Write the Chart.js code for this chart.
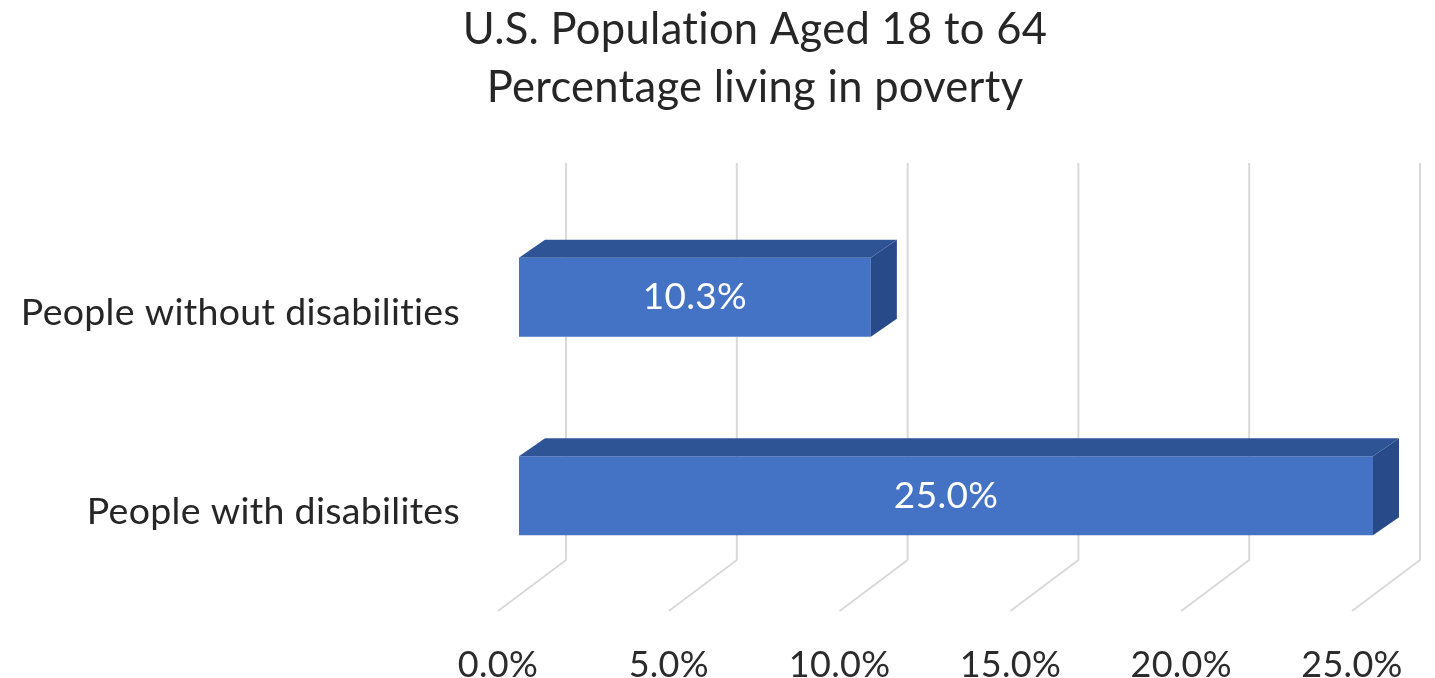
<!DOCTYPE html>
<html>
<head>
<meta charset="utf-8">
<script src="https://cdn.jsdelivr.net/npm/chart.js@4.4.1/dist/chart.umd.min.js"></script>
<style>
html, body { margin: 0; padding: 0; background: #fff; }
#wrap { width: 1435px; height: 678px; }
</style>
</head>
<body>
<div id="wrap"><canvas id="chart"></canvas></div>
<script>
var titleLines = ['U.S. Population Aged 18 to 64', 'Percentage living in poverty'];
var categories = ['People without disabilities', 'People with disabilites'];
var povertyRates = [10.3, 25.0];
var axisMax = 25;
var axisStep = 5;

var FONT = 'Lato, "Open Sans", sans-serif';

// fake 3D: the bar sits a bit behind the floor edge, the wall further back
var DEPTH = { barX: 21, barY: -16, sideX: 26, sideY: -18, wallX: 68, wallY: -51 };

var depthPlugin = {
    id: 'depth',
    beforeDraw: function (chart) {
        // tiny spacing keeps Lato from merging "ti" into a ligature
        chart.ctx.letterSpacing = '0.3px';
    },
    beforeDatasetsDraw: function (chart) {
        var ctx = chart.ctx;
        var xs = chart.scales.x;
        var area = chart.chartArea;
        ctx.save();
        ctx.strokeStyle = '#d9d9d9';
        ctx.lineWidth = 2;
        xs.ticks.forEach(function (t) {
            var x = xs.getPixelForValue(t.value);
            ctx.beginPath();
            ctx.moveTo(x + DEPTH.wallX, area.top + DEPTH.wallY);
            ctx.lineTo(x + DEPTH.wallX, area.bottom + DEPTH.wallY);
            ctx.lineTo(x, area.bottom);
            ctx.stroke();
        });
        ctx.restore();
        // front faces get drawn by chart.js, shifted into the middle of the depth
        ctx.save();
        ctx.translate(DEPTH.barX, DEPTH.barY);
    },
    afterDatasetsDraw: function (chart) {
        var ctx = chart.ctx;
        ctx.restore();
        var meta = chart.getDatasetMeta(0);
        meta.data.forEach(function (bar, i) {
            var p = bar.getProps(['x', 'y', 'base', 'height'], true);
            var left = p.base + DEPTH.barX;
            var right = p.x + DEPTH.barX;
            var top = p.y - p.height / 2 + DEPTH.barY;
            var bottom = p.y + p.height / 2 + DEPTH.barY;

            ctx.fillStyle = '#2f5496';
            ctx.beginPath();
            ctx.moveTo(left, top);
            ctx.lineTo(right, top);
            ctx.lineTo(right + DEPTH.sideX, top + DEPTH.sideY);
            ctx.lineTo(left + DEPTH.sideX, top + DEPTH.sideY);
            ctx.closePath();
            ctx.fill();

            ctx.fillStyle = '#294a89';
            ctx.beginPath();
            ctx.moveTo(right, top);
            ctx.lineTo(right + DEPTH.sideX, top + DEPTH.sideY);
            ctx.lineTo(right + DEPTH.sideX, bottom + DEPTH.sideY);
            ctx.lineTo(right, bottom);
            ctx.closePath();
            ctx.fill();

            ctx.fillStyle = '#ffffff';
            ctx.font = '37px ' + FONT;
            ctx.textAlign = 'center';
            ctx.textBaseline = 'middle';
            ctx.fillText(povertyRates[i].toFixed(1) + '%', (left + right) / 2, (top + bottom) / 2);
        });
    },
    afterDraw: function (chart) {
        // title is centred over the plot like the original, not the canvas
        var ctx = chart.ctx;
        ctx.save();
        ctx.fillStyle = '#262626';
        ctx.font = '43.5px ' + FONT;
        ctx.textAlign = 'center';
        ctx.textBaseline = 'middle';
        ctx.fillText(titleLines[0], 755, 30);
        ctx.fillText(titleLines[1], 755, 88);
        ctx.restore();
    }
};

var ctx = document.getElementById('chart').getContext('2d');
var chart = new Chart(ctx, {
    type: 'bar',
    data: {
        labels: categories,
        datasets: [{
            data: povertyRates,
            backgroundColor: '#4472c4',
            borderWidth: 0,
            categoryPercentage: 1,
            barPercentage: 0.398,
            clip: false
        }]
    },
    options: {
        indexAxis: 'y',
        responsive: true,
        maintainAspectRatio: false,
        animation: false,
        layout: { padding: { left: 10, right: 83, top: 214, bottom: 0 } },
        plugins: {
            legend: { display: false },
            tooltip: { enabled: false },
            title: { display: false }
        },
        scales: {
            x: {
                min: 0,
                max: axisMax,
                ticks: {
                    stepSize: axisStep,
                    callback: function (v) { return v.toFixed(1) + '%'; },
                    color: '#2b2b2b',
                    font: { family: FONT, size: 36 },
                    padding: 33,
                    maxRotation: 0,
                    autoSkip: false
                },
                grid: { display: false, drawTicks: false },
                border: { display: false },
                afterFit: function (s) { s.height = 67; }
            },
            y: {
                ticks: {
                    color: '#262626',
                    font: { family: FONT, size: 37.5 },
                    padding: 38
                },
                grid: { display: false, drawTicks: false },
                border: { display: false },
                afterFit: function (s) { s.width = 488; }
            }
        }
    },
    plugins: [depthPlugin]
});
</script>
</body>
</html>
